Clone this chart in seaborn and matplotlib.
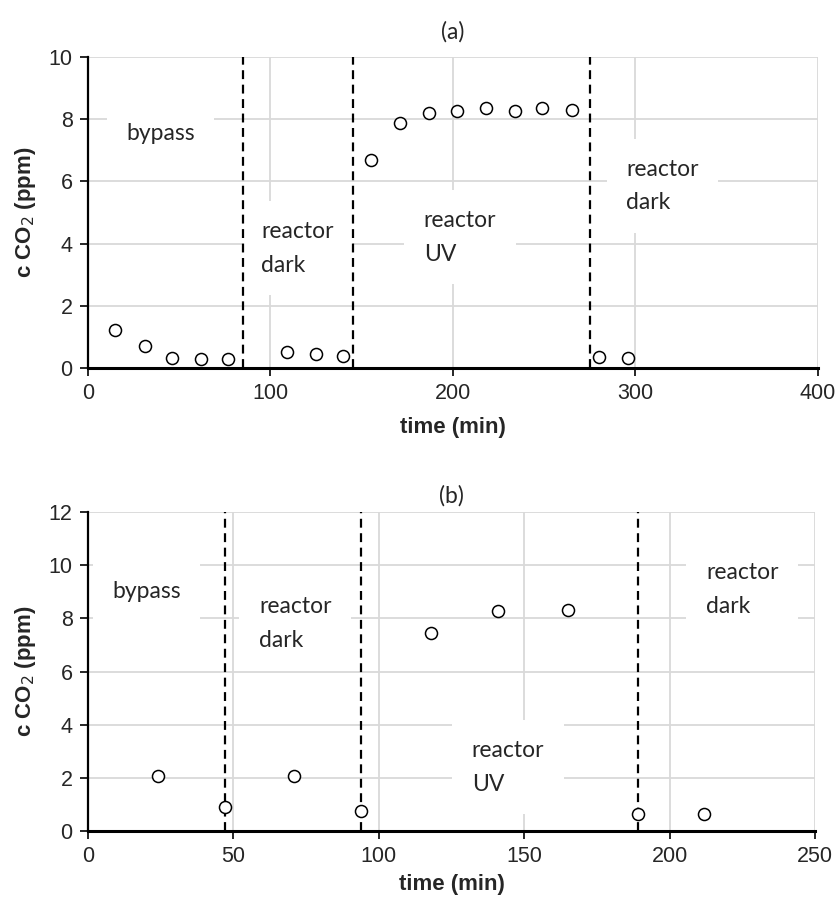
import matplotlib
matplotlib.use('Agg')
import matplotlib.pyplot as plt
import seaborn as sns
import pandas as pd

# Dados do painel (a)
tempo_a = [15, 31, 46, 62, 77, 109, 125, 140, 155, 171, 187, 202, 218, 234, 249, 265, 280, 296]
co2_a = [1.23, 0.71, 0.33, 0.27, 0.29, 0.51, 0.43, 0.37, 6.68, 7.89, 8.20, 8.28, 8.35, 8.28, 8.35, 8.29, 0.34, 0.31]
limites_a = [85, 145, 275]
rotulos_a = ['bypass', 'reactor\ndark', 'reactor\nUV', 'reactor\ndark']
rotulos_a_x = [21, 95, 184, 295]
rotulos_a_y = [7.55, 3.85, 4.2, 5.85]
ticks_x_a = [0, 100, 200, 300, 400]

# Dados do painel (b)
tempo_b = [24, 47, 71, 94, 118, 141, 165, 189, 212]
co2_b = [2.06, 0.9, 2.06, 0.75, 7.46, 8.26, 8.30, 0.63, 0.63]
limites_b = [47, 94, 189]
rotulos_b = ['bypass', 'reactor\ndark', 'reactor\nUV', 'reactor\ndark']
rotulos_b_x = [8.3, 58.8, 132, 212.5]
rotulos_b_y = [9.0, 7.8, 2.4, 9.1]
ticks_x_b = [0, 50, 100, 150, 200, 250]

sns.set_style('white')
plt.rcParams['font.family'] = ['Liberation Sans', 'DejaVu Sans']


def desenhar_painel(ax, tempo, co2, limites, rotulos, rx, ry, ticks_x, ymax, titulo, pad_titulo, labelpad):
    dados = pd.DataFrame({'time': tempo, 'co2': co2})
    ax.set_xlim(0, ticks_x[-1])
    ax.set_ylim(0, ymax)
    ax.set_xticks(ticks_x)
    ax.set_yticks(range(0, ymax + 1, 2))
    ax.grid(True, color='#d9d9d9', linewidth=1.3, zorder=0)
    for x in limites:
        ax.axvline(x, color='black', linestyle=(0, (4, 2.5)), linewidth=1.6, zorder=2)
    # rotulos com fundo branco que cobrem a grade
    for texto, x, y in zip(rotulos, rx, ry):
        ax.text(x, y, texto, fontsize=16.5, family=['Lato', 'DejaVu Sans'], va='center', ha='left',
                linespacing=1.75, zorder=1.5,
                bbox=dict(facecolor='white', edgecolor='none', pad=14))
    sns.scatterplot(data=dados, x='time', y='co2', ax=ax, marker='o', s=75,
                    facecolor='white', edgecolor='black', linewidth=1.1, zorder=3)
    ax.set_title(titulo, fontsize=16.5, family=['Lato', 'DejaVu Sans'], pad=pad_titulo)
    ax.set_xlabel('time (min)', fontsize=16, fontweight='bold', labelpad=labelpad)
    ax.set_ylabel('c CO$_2$ (ppm)', fontsize=16, fontweight='bold', labelpad=8)
    for lado in ['top', 'right']:
        ax.spines[lado].set_visible(False)
    ax.spines['left'].set_linewidth(1.6)
    ax.spines['bottom'].set_linewidth(2.2)
    ax.spines['left'].set_color('black')
    ax.spines['bottom'].set_color('black')
    ax.tick_params(axis='both', labelsize=15.5, direction='out', length=6, width=1.4,
                   bottom=True, left=True, pad=5)


fig = plt.figure(figsize=(8.38, 9.06), dpi=100)
ax_a = fig.add_axes([0.105, 0.594, 0.871, 0.343])
ax_b = fig.add_axes([0.105, 0.0828, 0.8675, 0.352])

desenhar_painel(ax_a, tempo_a, co2_a, limites_a, rotulos_a, rotulos_a_x, rotulos_a_y,
                ticks_x_a, 10, '(a)', 13, 9)
desenhar_painel(ax_b, tempo_b, co2_b, limites_b, rotulos_b, rotulos_b_x, rotulos_b_y,
                ticks_x_b, 12, '(b)', 7, 5)

fig.savefig('out.png', dpi=100)
